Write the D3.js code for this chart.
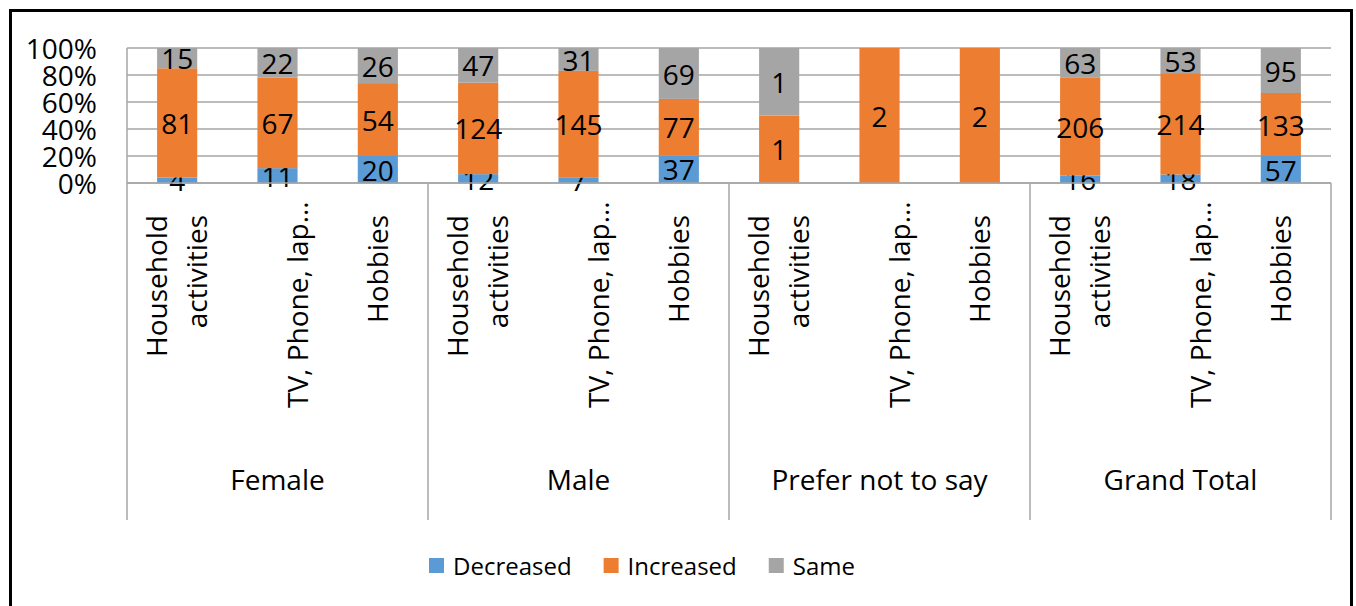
<!DOCTYPE html>
<html>
<head>
<meta charset="utf-8">
<script src="https://cdn.jsdelivr.net/npm/d3@7"></script>
<style>
  html, body { margin: 0; padding: 0; background: #fff; }
  svg { display: block; font-family: "Open Sans", "Noto Sans", sans-serif; }
</style>
</head>
<body>
<svg id="chart" width="1356" height="606"></svg>
<script>
// Respondent groups and the three activity categories in each
const groups = ["Female", "Male", "Prefer not to say", "Grand Total"];
const activities = ["Household activities", "TV, Phone, lap…", "Hobbies"];
// Axis label lines per activity (the long one sits in the second wrapped slot)
const activityLines = [["Household", "activities"], ["", "TV, Phone, lap…"], ["Hobbies"]];

// Counts per bar, in group order (Female, Male, Prefer not to say, Grand Total)
const decreased = [4, 11, 20, 12, 7, 37, 0, 0, 0, 16, 18, 57];
const increased = [81, 67, 54, 124, 145, 77, 1, 2, 2, 206, 214, 133];
const same      = [15, 22, 26, 47, 31, 69, 1, 0, 0, 63, 53, 95];

const seriesNames = ["Decreased", "Increased", "Same"];
const seriesColors = ["#5B9BD5", "#ED7D31", "#A5A5A5"];
const yTicks = [0, 20, 40, 60, 80, 100];

const svg = d3.select("#chart");

// Outer chart frame
svg.append("rect")
  .attr("x", 10.5).attr("y", 10.5)
  .attr("width", 1341).attr("height", 700)
  .attr("fill", "#fff").attr("stroke", "#000").attr("stroke-width", 3);

const plot = { left: 127, right: 1331, top: 48, bottom: 183 };

// One row per bar
const rows = [];
groups.forEach((g, gi) => {
  activities.forEach((a, ai) => {
    const i = gi * activities.length + ai;
    rows.push({ key: g + "|" + a, group: g, activity: ai,
      Decreased: decreased[i], Increased: increased[i], Same: same[i] });
  });
});

const x = d3.scaleBand()
  .domain(rows.map(r => r.key))
  .range([plot.left, plot.right])
  .paddingInner(0.6).paddingOuter(0.3);

const y = d3.scaleLinear().domain([0, 1]).range([plot.bottom, plot.top]);

// Horizontal gridlines
svg.append("g")
  .selectAll("line")
  .data(yTicks)
  .join("line")
  .attr("x1", plot.left).attr("x2", plot.right)
  .attr("y1", d => y(d / 100)).attr("y2", d => y(d / 100))
  .attr("stroke", "#a6a6a6").attr("stroke-width", 1.5);

// Value axis line
svg.append("line")
  .attr("x1", plot.left).attr("x2", plot.left)
  .attr("y1", plot.top).attr("y2", plot.bottom)
  .attr("stroke", "#a6a6a6").attr("stroke-width", 1.5);

// Value axis tick labels
const yAxis = d3.axisLeft(y)
  .tickValues(yTicks.map(t => t / 100))
  .tickFormat(d => Math.round(d * 100) + "%")
  .tickSize(0).tickPadding(30);
const yAxisG = svg.append("g")
  .attr("transform", `translate(${plot.left},0)`)
  .call(yAxis);
yAxisG.select(".domain").remove();
yAxisG.selectAll("text")
  .attr("font-size", 28).attr("fill", "#000")
  .attr("font-family", "'Open Sans', sans-serif")
  .attr("dy", "0.36em");

// 100% stacked series
const stack = d3.stack().keys(seriesNames).offset(d3.stackOffsetExpand);
const series = stack(rows);

series.forEach((s, si) => {
  const g = svg.append("g");
  g.selectAll("rect")
    .data(s)
    .join("rect")
    .attr("x", d => x(d.data.key))
    .attr("width", x.bandwidth())
    .attr("y", d => y(d[1]))
    .attr("height", d => y(d[0]) - y(d[1]))
    .attr("fill", seriesColors[si]);
  g.selectAll("text")
    .data(s.filter(d => d.data[s.key] > 0))
    .join("text")
    .attr("x", d => x(d.data.key) + x.bandwidth() / 2)
    .attr("y", d => (y(d[0]) + y(d[1])) / 2 + 1)
    .attr("dy", "0.36em")
    .attr("text-anchor", "middle")
    .attr("font-size", 28)
    .attr("fill", "#000")
    .text(d => d.data[s.key]);
});

// Category axis line
svg.append("line")
  .attr("x1", plot.left).attr("x2", plot.right)
  .attr("y1", plot.bottom).attr("y2", plot.bottom)
  .attr("stroke", "#a6a6a6").attr("stroke-width", 1.5);

// Group dividers
const groupEdges = d3.range(groups.length + 1).map(i =>
  plot.left + i * activities.length * x.step());
svg.append("g")
  .selectAll("line")
  .data(groupEdges)
  .join("line")
  .attr("x1", d => d).attr("x2", d => d)
  .attr("y1", plot.bottom).attr("y2", 520)
  .attr("stroke", "#a6a6a6").attr("stroke-width", 1.5);

// Rotated activity labels
const labelTop = 215, labelBottom = 408, labelMinTop = 193, lineGap = 40;
rows.forEach(r => {
  const cx = x(r.key) + x.bandwidth() / 2;
  const lines = activityLines[r.activity];
  const n = lines.length;
  lines.forEach((line, li) => {
    if (!line) return;
    const t = svg.append("text")
      .attr("font-size", 28).attr("fill", "#000")
      .attr("text-anchor", "end")
      .text(line);
    const len = t.node().getComputedTextLength();
    const top = Math.max(labelMinTop, Math.min(labelTop, labelBottom - len));
    const base = cx + 10 + (li - (n - 1) / 2) * lineGap;
    t.attr("transform", `translate(${base},${top}) rotate(-90)`);
  });
});

// Group labels
svg.append("g")
  .selectAll("text")
  .data(groups)
  .join("text")
  .attr("x", (d, i) => (groupEdges[i] + groupEdges[i + 1]) / 2)
  .attr("y", 480).attr("dy", "0.36em")
  .attr("text-anchor", "middle")
  .attr("font-size", 28).attr("fill", "#000")
  .text(d => d);

// Legend
let lx = 429;
const ly = 566;
seriesNames.forEach((name, i) => {
  svg.append("rect")
    .attr("x", lx).attr("y", ly - 8)
    .attr("width", 15).attr("height", 15)
    .attr("fill", seriesColors[i]);
  const t = svg.append("text")
    .attr("x", lx + 24).attr("y", ly).attr("dy", "0.36em")
    .attr("font-size", 24).attr("fill", "#000")
    .text(name);
  lx += 24 + t.node().getComputedTextLength() + 32;
});
</script>
</body>
</html>
